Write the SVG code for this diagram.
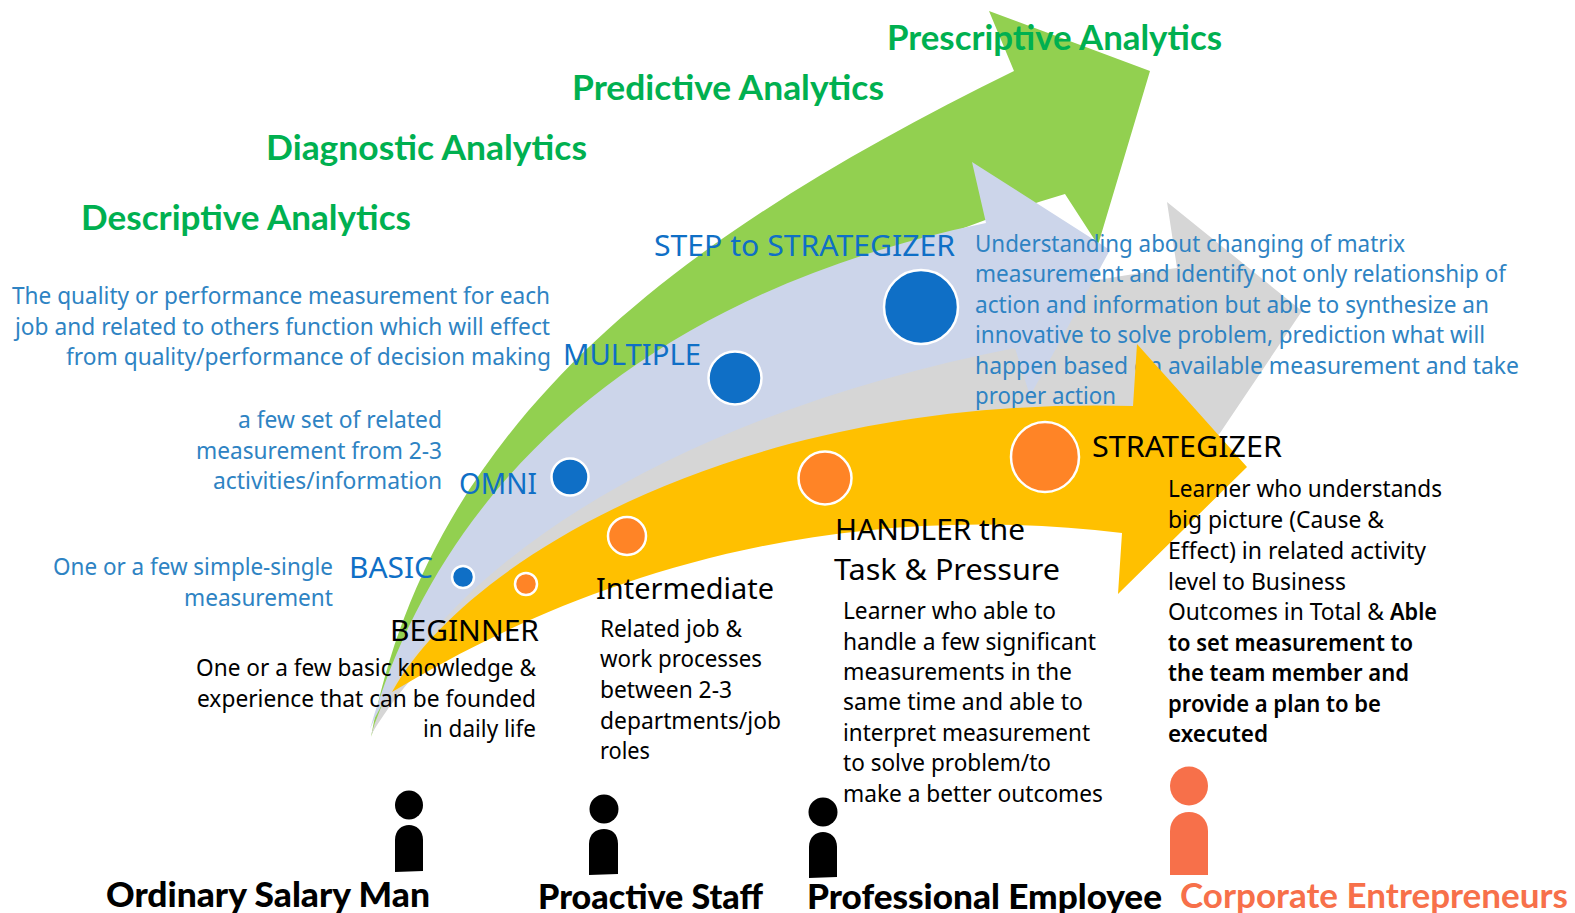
<svg xmlns="http://www.w3.org/2000/svg" width="1575" height="913" viewBox="0 0 1575 913">
<style>
text{font-family:"Noto Sans","Liberation Sans",sans-serif;}
.h{font-family:Lato,"Liberation Sans",sans-serif;font-weight:700;font-size:34px;}
.g{fill:#00B050;}
.d{font-size:23px;fill:#2E83C3;}
.l{font-size:29px;fill:#0F6FC6;}
.t{font-size:23px;fill:#000;}
.b{font-weight:600;}
.k{font-size:29px;fill:#000;}
.f{fill:#000;}
.hb{font-weight:900;}
.o{fill:#F7704A;}
.cb{fill:#0F6FC6;stroke:#fff;stroke-width:2.5;}
.co{fill:#FF8426;stroke:#fff;stroke-width:2.5;}
</style>
<rect width="1575" height="913" fill="#fff"/>
<g id="arrow-analytics-back">
<path id="arrow-green" fill="#92D050" d="M371 737C430 420 680 235 1014 71L989 11L1150 71L1098 245L1065 194C740 290 450 500 371 737Z"/>
<path id="arrow-gray" fill="#D6D6D6" d="M371 735C430 540 760 320 1177 268L1167 202L1302 311L1220 433L1205 450L1160 420C800 400 480 550 371 735Z"/>
<path id="arrow-blue" fill="#CCD5EA" d="M370 729C445 470 660 290 986 223L972 162L1110 250L1030 396L1015 348C700 410 450 550 370 729Z"/>
</g>
<g id="desc-strategizer-blue">
<text class="d" x="975" y="252" textLength="430" lengthAdjust="spacingAndGlyphs">Understanding about changing of matrix</text>
<text class="d" x="975" y="282" textLength="531" lengthAdjust="spacingAndGlyphs">measurement and identify not only relationship of</text>
<text class="d" x="975" y="313" textLength="514" lengthAdjust="spacingAndGlyphs">action and information but able to synthesize an</text>
<text class="d" x="975" y="343" textLength="510" lengthAdjust="spacingAndGlyphs">innovative to solve problem, prediction what will</text>
<text class="d" x="975" y="374" textLength="544" lengthAdjust="spacingAndGlyphs">happen based on available measurement and take</text>
<text class="d" x="975" y="404" textLength="141" lengthAdjust="spacingAndGlyphs">proper action</text>
</g>
<g id="arrow-analytics-front">
<path id="arrow-yellow" fill="#FFC000" d="M392 692C465 560 740 395 1133 406L1137 344L1247 467L1118 594L1122 533C770 490 515 618 392 692Z"/>
</g>
<g id="analytics">
<text class="h g" x="887" y="50" textLength="335" lengthAdjust="spacingAndGlyphs">Prescriptive Analytics</text>
<text class="h g" x="572" y="100" textLength="312" lengthAdjust="spacingAndGlyphs">Predictive Analytics</text>
<text class="h g" x="266" y="160" textLength="321" lengthAdjust="spacingAndGlyphs">Diagnostic Analytics</text>
<text class="h g" x="81" y="230" textLength="330" lengthAdjust="spacingAndGlyphs">Descriptive Analytics</text>
</g>
<g id="node-basic">
<circle class="cb" cx="463" cy="577" r="11"/>
<text class="l" x="349" y="578" textLength="84" lengthAdjust="spacingAndGlyphs">BASIC</text>
<text class="d" x="53" y="575" textLength="280" lengthAdjust="spacingAndGlyphs">One or a few simple-single</text>
<text class="d" x="184" y="606" textLength="149" lengthAdjust="spacingAndGlyphs">measurement</text>
</g>
<g id="node-omni">
<circle class="cb" cx="570" cy="477" r="18.500"/>
<text class="l" x="459" y="494" textLength="78" lengthAdjust="spacingAndGlyphs">OMNI</text>
<text class="d" x="238" y="428" textLength="204" lengthAdjust="spacingAndGlyphs">a few set of related</text>
<text class="d" x="196" y="459" textLength="246" lengthAdjust="spacingAndGlyphs">measurement from 2-3</text>
<text class="d" x="213" y="489" textLength="229" lengthAdjust="spacingAndGlyphs">activities/information</text>
</g>
<g id="node-multiple">
<circle class="cb" cx="735" cy="378" r="26.500"/>
<text class="l" x="563" y="365" textLength="138" lengthAdjust="spacingAndGlyphs">MULTIPLE</text>
<text class="d" x="12" y="304" textLength="538" lengthAdjust="spacingAndGlyphs">The quality or performance measurement for each</text>
<text class="d" x="15" y="335" textLength="535" lengthAdjust="spacingAndGlyphs">job and related to others function which will effect</text>
<text class="d" x="66" y="365" textLength="485" lengthAdjust="spacingAndGlyphs">from quality/performance of decision making</text>
</g>
<g id="node-step">
<circle class="cb" cx="921" cy="307" r="37"/>
<text class="l" x="654" y="256" textLength="301" lengthAdjust="spacingAndGlyphs">STEP to STRATEGIZER</text>
</g>
<g id="node-beginner">
<circle class="co" cx="526" cy="584" r="11"/>
<text class="k" x="390" y="641" textLength="149" lengthAdjust="spacingAndGlyphs">BEGINNER</text>
<text class="t" x="196" y="676" textLength="340" lengthAdjust="spacingAndGlyphs">One or a few basic knowledge &amp;</text>
<text class="t" x="197" y="707" textLength="339" lengthAdjust="spacingAndGlyphs">experience that can be founded</text>
<text class="t" x="423" y="737" textLength="113" lengthAdjust="spacingAndGlyphs">in daily life</text>
</g>
<g id="node-intermediate">
<circle class="co" cx="627" cy="536" r="19"/>
<text class="k" x="596" y="599" textLength="178" lengthAdjust="spacingAndGlyphs">Intermediate</text>
<text class="t" x="600" y="637" textLength="142" lengthAdjust="spacingAndGlyphs">Related job &amp;</text>
<text class="t" x="600" y="667" textLength="162" lengthAdjust="spacingAndGlyphs">work processes</text>
<text class="t" x="600" y="698" textLength="132" lengthAdjust="spacingAndGlyphs">between 2-3</text>
<text class="t" x="600" y="729" textLength="181" lengthAdjust="spacingAndGlyphs">departments/job</text>
<text class="t" x="600" y="759" textLength="50" lengthAdjust="spacingAndGlyphs">roles</text>
</g>
<g id="node-handler">
<circle class="co" cx="825" cy="478" r="26.500"/>
<text class="k" x="835" y="540" textLength="190" lengthAdjust="spacingAndGlyphs">HANDLER the</text>
<text class="k" x="834" y="580" textLength="226" lengthAdjust="spacingAndGlyphs">Task &amp; Pressure</text>
<text class="t" x="843" y="619" textLength="213" lengthAdjust="spacingAndGlyphs">Learner who able to</text>
<text class="t" x="843" y="650" textLength="253" lengthAdjust="spacingAndGlyphs">handle a few significant</text>
<text class="t" x="843" y="680" textLength="229" lengthAdjust="spacingAndGlyphs">measurements in the</text>
<text class="t" x="843" y="710" textLength="240" lengthAdjust="spacingAndGlyphs">same time and able to</text>
<text class="t" x="843" y="741" textLength="247" lengthAdjust="spacingAndGlyphs">interpret measurement</text>
<text class="t" x="843" y="771" textLength="208" lengthAdjust="spacingAndGlyphs">to solve problem/to</text>
<text class="t" x="843" y="802" textLength="260" lengthAdjust="spacingAndGlyphs">make a better outcomes</text>
</g>
<g id="node-strategizer">
<ellipse class="co" cx="1045" cy="457" rx="34" ry="35"/>
<text class="k" x="1092" y="457" textLength="190" lengthAdjust="spacingAndGlyphs">STRATEGIZER</text>
<text class="t" x="1168" y="497" textLength="274" lengthAdjust="spacingAndGlyphs">Learner who understands</text>
<text class="t" x="1168" y="528" textLength="216" lengthAdjust="spacingAndGlyphs">big picture (Cause &amp;</text>
<text class="t" x="1168" y="559" textLength="258" lengthAdjust="spacingAndGlyphs">Effect) in related activity</text>
<text class="t" x="1168" y="590" textLength="178" lengthAdjust="spacingAndGlyphs">level to Business</text>
<text class="t" x="1168" y="620" textLength="216" lengthAdjust="spacingAndGlyphs">Outcomes in Total &amp;</text>
<text class="t b" x="1390" y="620" textLength="47" lengthAdjust="spacingAndGlyphs">Able</text>
<text class="t b" x="1168" y="651" textLength="245" lengthAdjust="spacingAndGlyphs">to set measurement to</text>
<text class="t b" x="1168" y="681" textLength="241" lengthAdjust="spacingAndGlyphs">the team member and</text>
<text class="t b" x="1168" y="712" textLength="213" lengthAdjust="spacingAndGlyphs">provide a plan to be</text>
<text class="t b" x="1168" y="742" textLength="100" lengthAdjust="spacingAndGlyphs">executed</text>
</g>
<g id="person-ordinary">
<ellipse class="f" cx="409" cy="805" rx="14" ry="14.500"/>
<path class="f" d="M395 872V840C395 830 402 825 409 825S423 830 423 840V871Z"/>
<text class="h hb f" x="106" y="907" textLength="324" lengthAdjust="spacingAndGlyphs">Ordinary Salary Man</text>
</g>
<g id="person-proactive">
<ellipse class="f" cx="604" cy="809" rx="14.500" ry="14.500"/>
<path class="f" d="M589 875V844C589 834 596 829 604 829S618 834 618 844V874Z"/>
<text class="h hb f" x="538" y="909" textLength="225" lengthAdjust="spacingAndGlyphs">Proactive Staff</text>
</g>
<g id="person-professional">
<ellipse class="f" cx="823" cy="812" rx="14.500" ry="14.500"/>
<path class="f" d="M809 878V847C809 837 816 832 823 832S837 837 837 847V877Z"/>
<text class="h hb f" x="807" y="909" textLength="355" lengthAdjust="spacingAndGlyphs">Professional Employee</text>
</g>
<g id="person-corporate">
<ellipse class="o" cx="1189" cy="786" rx="19" ry="19.500"/>
<path class="o" d="M1170 875V831C1170 819 1179 812 1189 812S1208 819 1208 831V875Z"/>
<text class="h o" x="1180" y="908" textLength="388" lengthAdjust="spacingAndGlyphs">Corporate Entrepreneurs</text>
</g>
</svg>
